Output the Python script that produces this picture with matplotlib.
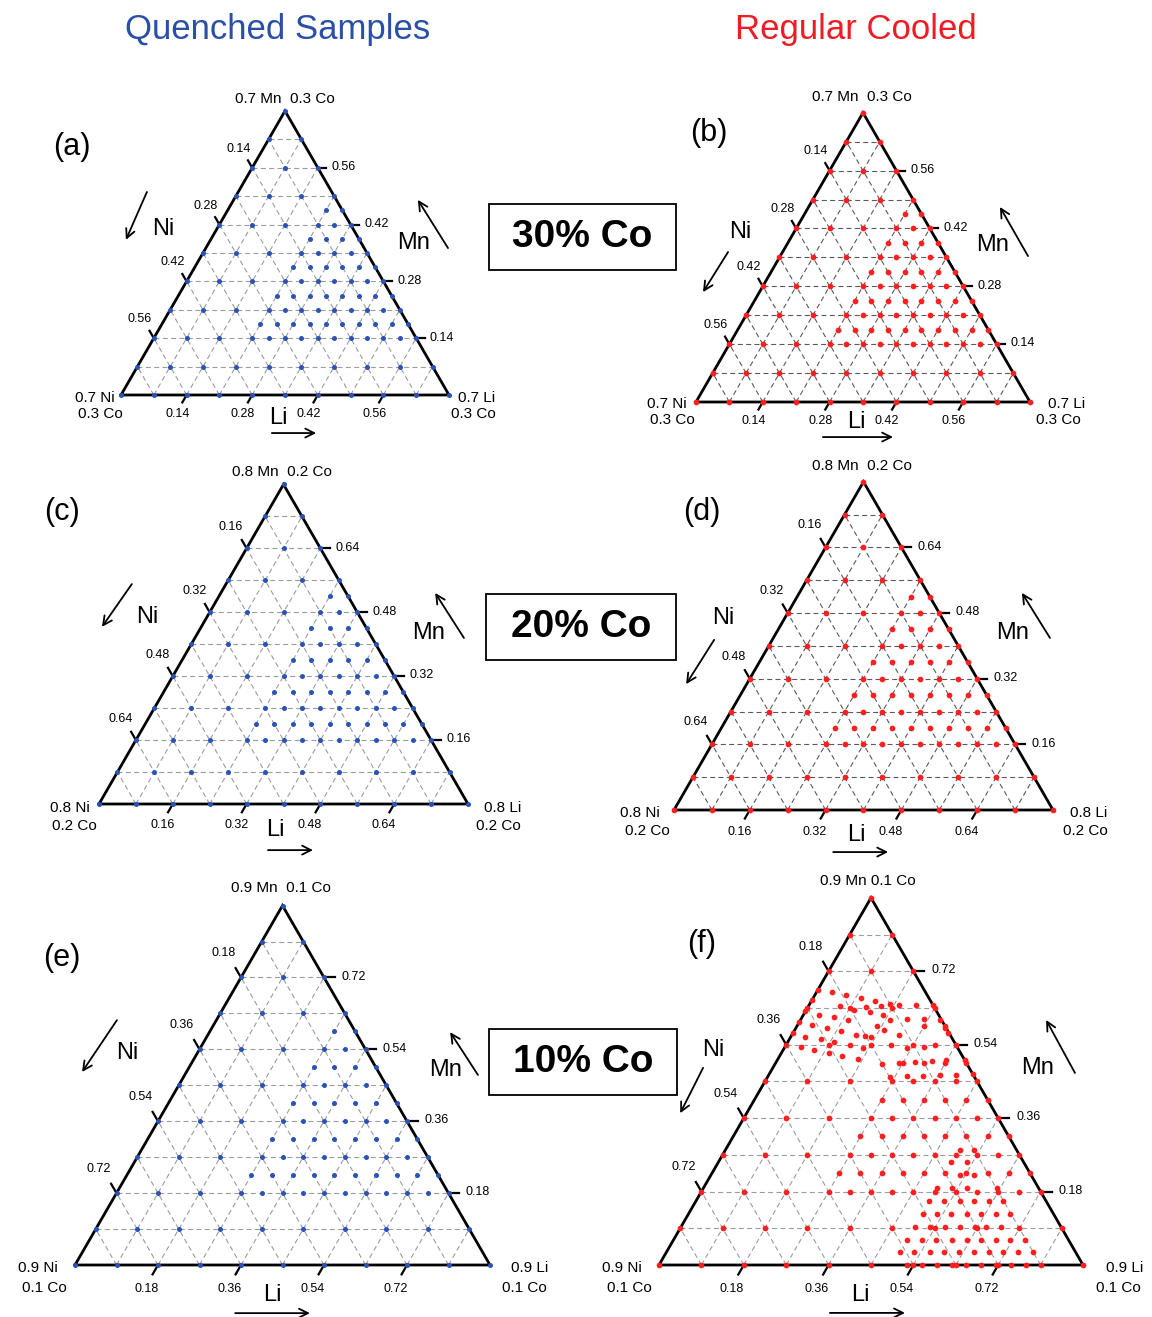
import numpy as np
import matplotlib
matplotlib.use("Agg")
import matplotlib.pyplot as plt
from matplotlib.patches import Rectangle

plt.rcParams['font.family'] = ['Liberation Sans', 'DejaVu Sans']

# ---------------- data ----------------
# Compositions are given in steps of 1/20 of the non-Co fraction (1 - Co).
# Key = Mn index, value = list of Li indices (Ni = 20 - Li - Mn).
LATTICE_ROWS = {
    20: [0],
    18: [0, 2],
    16: [0, 2, 4],
    14: [0, 2, 4, 6],
    13: [6, 7],
    12: [0, 2, 4, 6, 7, 8],
    11: [6, 7, 8, 9],
    10: [0, 2, 4, 6, 7, 8, 9, 10],
    9: [6, 7, 8, 9, 10, 11],
    8: [0, 2, 4, 6, 7, 8, 9, 10, 11, 12],
    7: [6, 7, 8, 9, 10, 11, 12, 13],
    6: [0, 2, 4, 6, 7, 8, 9, 10, 11, 12, 13, 14],
    5: [6, 7, 8, 9, 10, 11, 12, 13, 14, 15],
    4: [0, 2, 4, 6, 7, 8, 9, 10, 11, 12, 13, 14, 15, 16],
    2: [0, 2, 4, 6, 8, 10, 12, 14, 16, 18],
    0: [0, 2, 4, 6, 8, 10, 12, 14, 16, 18, 20],
}

# extra compositions of panel (f): (Li index, Mn index) in 1/20 steps
F_EXTRA_UPPER = [
    (0, 15), (0, 14.42), (0, 13.82), (0, 13.24), (0, 12.65),
    (0.71, 14.87), (1.47, 14.69), (2.24, 14.55), (3.0, 14.38), (3.78, 14.24),
    (1.49, 14.09), (2.24, 13.91), (2.75, 14.05), (3.05, 13.78), (3.4, 14.11),
    (4.25, 14.15), (5.02, 14.18), (5.82, 14.18),
    (0.72, 13.64), (1.5, 13.51), (2.23, 13.36), (3.76, 13.64), (4.22, 13.36),
    (5.0, 13.38), (5.8, 13.42), (6.6, 13.35),
    (0.7, 13.05), (1.45, 12.91), (2.23, 12.73), (3.02, 12.55), (3.48, 12.47),
    (3.77, 12.42), (3.79, 13.02), (4.2, 12.82), (5.05, 12.55), (7.05, 12.9), (7.3, 12.65),
    (0.7, 12.42), (1.48, 12.29), (2.2, 12.15),
    (0.74, 11.87), (1.44, 11.73), (2.24, 11.55), (3.0, 12.0), (3.71, 11.82),
    (4.98, 11.96), (5.77, 11.82), (6.57, 11.87),
    (2.96, 11.36), (3.79, 11.2), (5.02, 10.96), (5.82, 11.0), (6.55, 11.05),
    (7.35, 11.09), (7.95, 11.15), (8.85, 11.15),
    (5.77, 10.24), (6.55, 10.27), (7.33, 10.29), (8.09, 10.33), (8.82, 10.36), (9.58, 10.42),
]
F_EXTRA_LOWER_ROWS = {
    6.29: [11.04, 11.71],
    5.61: [10.96, 11.72],
    4.88: [11.75, 12.42],
    4.21: [11.0, 11.7, 12.44, 13.85],
    3.49: [11.01, 11.7, 12.43, 13.1, 13.82, 14.5],
    2.8: [11.03, 11.7, 12.36, 13.11, 13.8, 14.5, 15.18],
    2.08: [11.04, 11.75, 12.45, 13.14, 13.85, 14.4, 15.1],
    1.36: [11.04, 11.74, 12.4, 13.14, 13.85, 14.5, 15.2, 15.86, 16.6],
    0.69: [11.03, 11.7, 12.43, 13.1, 13.8, 14.5, 15.2, 15.9, 16.6, 17.3],
    0.0: [11.7, 12.4, 13.1, 13.8, 14.5, 15.2, 15.9, 16.6, 17.3],
}

PANEL_LABELS = ['(a)', '(b)', '(c)', '(d)', '(e)', '(f)']
CO_FRACTION = [0.3, 0.3, 0.2, 0.2, 0.1, 0.1]
TICK_STEPS = [2, 4, 6, 8]          # tick positions in tenths of the axis
BOX_TEXTS = ['30% Co', '20% Co', '10% Co']
TITLES = ['Quenched Samples', 'Regular Cooled']

BLUE = '#2a52b8'
RED = '#ff1f1f'

# --------------- layout ----------------
W, H = 1152, 1317
fig = plt.figure(figsize=(W / 100, H / 100), dpi=100)
SQ = np.sqrt(3) / 2

# (bottom-left x px, base y px from top, side px)
GEOM = [(121, 395, 328), (696, 402, 334), (99, 804, 369),
        (674, 810, 379), (75, 1265, 415), (659, 1265, 424)]

# text positions in triangle units
TXT = [
    dict(lab=(-0.149, 0.756), ni=(0.128, 0.506), niar=((0.079, 0.619), (0.015, 0.473)),
         mn=(0.893, 0.463), mnar=((0.997, 0.448), (0.905, 0.595)), li=(0.479, -0.07),
         liar=((0.46, -0.116), (0.595, -0.116)), top=(0.5, 0.902),
         bl=((-0.08, -0.009), (-0.064, -0.058)), br=((1.085, -0.009), (1.074, -0.058))),
    dict(lab=(0.039, 0.805), ni=(0.132, 0.509), niar=((0.096, 0.449), (0.021, 0.329)),
         mn=(0.889, 0.47), mnar=((0.994, 0.437), (0.91, 0.584)), li=(0.479, -0.06),
         liar=((0.38, -0.105), (0.59, -0.105)), top=(0.497, 0.913),
         bl=((-0.087, -0.006), (-0.072, -0.054)), br=((1.11, -0.006), (1.084, -0.054))),
    dict(lab=(-0.1, 0.791), ni=(0.13, 0.507), niar=((0.089, 0.596), (0.008, 0.48)),
         mn=(0.892, 0.463), mnar=((0.989, 0.45), (0.911, 0.572)), li=(0.477, -0.07),
         liar=((0.458, -0.125), (0.58, -0.125)), top=(0.496, 0.9),
         bl=((-0.079, -0.011), (-0.068, -0.06)), br=((1.095, -0.011), (1.081, -0.06))),
    dict(lab=(0.074, 0.786), ni=(0.129, 0.507), niar=((0.106, 0.449), (0.032, 0.332)),
         mn=(0.892, 0.467), mnar=((0.992, 0.454), (0.918, 0.573)), li=(0.48, -0.066),
         liar=((0.42, -0.111), (0.565, -0.111)), top=(0.496, 0.908),
         bl=((-0.09, -0.008), (-0.069, -0.055)), br=((1.094, -0.008), (1.086, -0.055))),
    dict(lab=(-0.031, 0.74), ni=(0.125, 0.511), niar=((0.101, 0.59), (0.017, 0.465)),
         mn=(0.892, 0.47), mnar=((0.971, 0.458), (0.904, 0.561)), li=(0.475, -0.072),
         liar=((0.386, -0.116), (0.566, -0.116)), top=(0.496, 0.908),
         bl=((-0.089, -0.007), (-0.075, -0.055)), br=((1.096, -0.007), (1.082, -0.055))),
    dict(lab=(0.101, 0.757), ni=(0.127, 0.507), niar=((0.104, 0.465), (0.05, 0.358)),
         mn=(0.892, 0.465), mnar=((0.981, 0.453), (0.913, 0.578)), li=(0.474, -0.071),
         liar=((0.403, -0.113), (0.58, -0.113)), top=(0.493, 0.906),
         bl=((-0.087, -0.007), (-0.071, -0.054)), br=((1.097, -0.007), (1.083, -0.054))),
]


def tern(li, mn):
    li = np.asarray(li, float)
    mn = np.asarray(mn, float)
    return li + mn / 2, mn * SQ


def lattice_points():
    li, mn = [], []
    for m, lis in LATTICE_ROWS.items():
        for l in lis:
            li.append(l / 20)
            mn.append(m / 20)
    return li, mn


def f_points():
    li, mn = lattice_points()
    for l, m in F_EXTRA_UPPER:
        li.append(l / 20)
        mn.append(m / 20)
    for m, lis in F_EXTRA_LOWER_ROWS.items():
        for l in lis:
            li.append(l / 20)
            mn.append(m / 20)
    return li, mn


PAD = 0.3
for idx in range(6):
    blx, bly, side = GEOM[idx]
    left = (blx - PAD * side) / W
    bottom = (H - bly - PAD * side) / H
    ax = fig.add_axes([left, bottom, (1 + 2 * PAD) * side / W, (SQ + 2 * PAD) * side / H])
    ax.set_xlim(-PAD, 1 + PAD)
    ax.set_ylim(-PAD, SQ + PAD)
    ax.axis('off')
    ax.patch.set_visible(False)

    co = CO_FRACTION[idx]
    base = 1 - co
    quench = idx % 2 == 0
    gcol = '#9c9c9c' if (quench or idx == 5) else '#5a5a5a'
    dcol = BLUE if quench else RED
    t = TXT[idx]

    # dashed grid
    for k in range(1, 10):
        v = k / 10
        for (l0, m0), (l1, m1) in [((0, v), (1 - v, v)), ((v, 0), (v, 1 - v)),
                                   ((1 - v, 0), (0, 1 - v))]:
            x, y = tern([l0, l1], [m0, m1])
            ax.plot(x, y, ls=(0, (4.5, 3)), color=gcol, lw=0.8, zorder=1)

    # outline
    x, y = tern([0, 1, 0, 0], [0, 0, 1, 0])
    ax.plot(x, y, color='black', lw=2.0, zorder=3, solid_joinstyle='miter')

    # ticks & tick labels
    L = 0.026
    for k in TICK_STEPS:
        v = k / 10
        lab = f"{v * base:.2f}"
        px, py = tern(0, 1 - v)
        ax.plot([px, px - 0.5 * L], [py, py + 0.866 * L], color='black', lw=1.6, zorder=3)
        ax.text(px - 0.042, py + 0.058, lab, fontsize=9, ha='center', va='center')
        px, py = tern(1 - v, v)
        ax.plot([px, px + L], [py, py], color='black', lw=1.6, zorder=3)
        ax.text(px + 0.042, py + 0.002, lab, fontsize=9, ha='left', va='center')
        px, py = tern(v, 0)
        ax.plot([px, px - 0.5 * L], [py, py - 0.866 * L], color='black', lw=1.6, zorder=3)
        ax.text(px - 0.028, py - 0.057, lab, fontsize=9, ha='center', va='center')

    # points
    li, mn = f_points() if idx == 5 else lattice_points()
    x, y = tern(li, mn)
    ax.scatter(x, y, s=13 if quench else 17, color=dcol, zorder=4, linewidths=0)

    # labels
    top_txt = f"{base:.1f} Mn  {co:.1f} Co" if idx != 5 else f"{base:.1f} Mn {co:.1f} Co"
    ax.text(*t['top'], top_txt, fontsize=11, ha='center', va='center')
    ax.text(*t['bl'][0], f"{base:.1f} Ni", fontsize=11, ha='center', va='center')
    ax.text(*t['bl'][1], f"{co:.1f} Co", fontsize=11, ha='center', va='center')
    ax.text(*t['br'][0], f"{base:.1f} Li", fontsize=11, ha='center', va='center')
    ax.text(*t['br'][1], f"{co:.1f} Co", fontsize=11, ha='center', va='center')
    ax.text(*t['ni'], 'Ni', fontsize=17, ha='center', va='center')
    ax.text(*t['mn'], 'Mn', fontsize=17, ha='center', va='center')
    ax.text(*t['li'], 'Li', fontsize=17, ha='center', va='center')
    ax.text(*t['lab'], PANEL_LABELS[idx], fontsize=22, ha='center', va='center')
    for key in ['niar', 'mnar', 'liar']:
        tail, head = t[key]
        ax.annotate('', xy=head, xytext=tail, annotation_clip=False,
                    arrowprops=dict(arrowstyle='->', lw=1.3, color='black',
                                    mutation_scale=16, shrinkA=0, shrinkB=0))

# titles
fig.text(278 / W, 1 - 29 / H, TITLES[0], color='#2a4fa6', fontsize=25, ha='center', va='center')
fig.text(856 / W, 1 - 29 / H, TITLES[1], color='#ee1c24', fontsize=25, ha='center', va='center')

# Co boxes
BOXES = [(489, 204, 187, 66), (486, 594, 190, 66), (489, 1029, 188, 66)]
for (bx, by, bw, bh), txt in zip(BOXES, BOX_TEXTS):
    fig.patches.append(Rectangle((bx / W, 1 - (by + bh) / H), bw / W, bh / H,
                                 transform=fig.transFigure, fill=False,
                                 edgecolor='black', lw=1.3))
    fig.text((bx + bw / 2) / W, 1 - (by + bh / 2) / H, txt, fontsize=28,
             fontweight='bold', ha='center', va='center')

fig.savefig('out.png', dpi=100)
